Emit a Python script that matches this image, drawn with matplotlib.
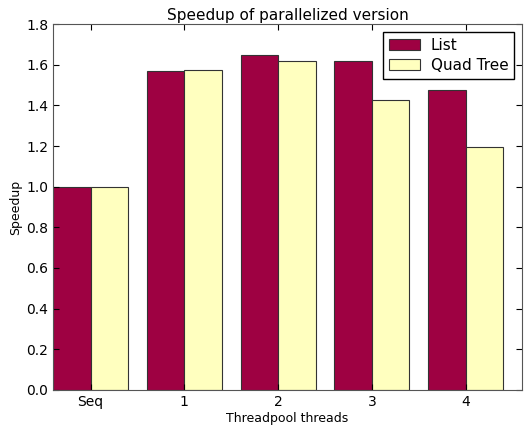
import matplotlib

matplotlib.use("Agg")
import matplotlib.pyplot as plt
import numpy as np

plt.rcParams.update({
    "font.family": "DejaVu Sans",
    "font.size": 10,
    "xtick.direction": "in",
    "ytick.direction": "in",
    "xtick.top": True,
    "ytick.right": True,
    "xtick.major.size": 4,
    "ytick.major.size": 4,
})

categories = ["Seq", "1", "2", "3", "4"]
list_speedup = [1.0, 1.57, 1.65, 1.62, 1.475]
quadtree_speedup = [1.0, 1.575, 1.62, 1.425, 1.195]

fig = plt.figure(figsize=(5.26, 4.25), dpi=100)
ax = fig.add_axes([0.1008, 0.0824, 0.8916, 0.8611])

x = np.arange(len(categories))
w = 0.4
ax.bar(x, list_speedup, w, align="edge", color="#9e0142",
       edgecolor="#333333", linewidth=0.8, label="List")
ax.bar(x + w, quadtree_speedup, w, align="edge", color="#ffffbf",
       edgecolor="#333333", linewidth=0.8, label="Quad Tree")

ax.set_xticks(x + w)
ax.set_xticklabels(categories)
ax.set_xlim(0, 5)
ax.set_ylim(0, 1.8)
ax.set_yticks(np.arange(0, 1.81, 0.2))
ax.set_xlabel("Threadpool threads", fontsize=9, labelpad=2)
ax.set_ylabel("Speedup", fontsize=9, labelpad=3)
ax.set_title("Speedup of parallelized version", fontsize=11, pad=3)
for s in ax.spines.values():
    s.set_color("#555555")
ax.legend(loc="upper right", fontsize=11, fancybox=False,
          edgecolor="black", framealpha=1, borderaxespad=0.5,
          handlelength=2.0, borderpad=0.4, labelspacing=0.35,
          handletextpad=0.7)

fig.savefig("out.png", dpi=100)
